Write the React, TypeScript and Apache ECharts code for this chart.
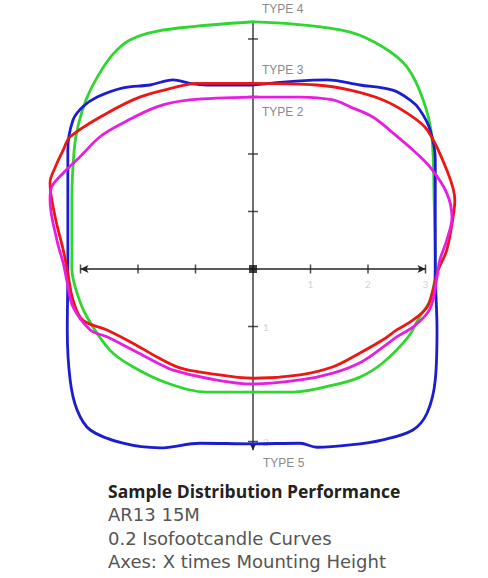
import React, { useEffect, useRef } from "react";
import * as echarts from "echarts";

// Isofootcandle curves (x, y in multiples of mounting height)
const type4Green: [number, number][] = [
  [0, 4.3], [0.7, 4.26], [1.69, 4.12], [2.26, 3.86], [2.68, 3.51], [2.96, 2.94], [3.11, 2.3],
  [3.15, 1.2], [3.17, 0], [3.08, -0.54], [2.9, -0.83], [2.7, -1.18], [2.26, -1.63], [1.86, -1.88],
  [1.39, -2.02], [0.7, -2.14], [0, -2.14], [-0.8, -2.14], [-1.5, -1.98], [-2.09, -1.7], [-2.49, -1.41],
  [-2.89, -0.83], [-3.06, -0.42], [-3.15, 0], [-3.15, 1.2], [-3.11, 2.07], [-3.04, 2.5], [-2.9, 2.95],
  [-2.7, 3.35], [-2.45, 3.72], [-2.15, 3.98], [-1.7, 4.13], [-1.0, 4.22], [0, 4.3],
];
const type5Blue: [number, number][] = [
  [0, 3.2], [1.29, 3.29], [1.86, 3.2], [2.43, 3.11], [2.73, 2.94], [2.9, 2.77], [3.08, 2.42],
  [3.17, 1.9], [3.17, 0], [3.2, -1.06], [3.17, -1.93], [3.03, -2.5], [2.78, -2.8], [2.26, -2.97],
  [1.69, -3.06], [1.11, -3.1], [0.82, -3.03], [0, -3.04], [-0.92, -3.03], [-1.62, -3.11], [-2.26, -3.03],
  [-2.83, -2.8], [-3.06, -2.45], [-3.18, -1.93], [-3.23, -1.06], [-3.22, 0], [-3.22, 2.07], [-3.13, 2.59],
  [-2.96, 2.82], [-2.71, 2.99], [-2.26, 3.15], [-1.79, 3.2], [-1.39, 3.29], [-1.1, 3.23], [-0.8, 3.2], [0, 3.2],
];
const type3Red: [number, number][] = [
  [0, 3.23], [1.11, 3.2], [1.69, 3.11], [2.26, 2.94], [2.68, 2.71], [3.03, 2.42], [3.37, 1.72],
  [3.51, 1.2], [3.48, 0.9], [3.37, 0.33], [3.22, -0.02], [3.13, -0.37], [3.03, -0.66], [2.78, -0.89],
  [2.5, -1.06], [2.26, -1.23], [1.86, -1.46], [1.39, -1.7], [0.82, -1.84], [0, -1.9], [-0.8, -1.81],
  [-1.27, -1.72], [-1.67, -1.53], [-2.09, -1.29], [-2.54, -1.06], [-2.96, -0.89], [-3.13, -0.54],
  [-3.23, -0.02], [-3.3, 0.33], [-3.44, 0.9], [-3.53, 1.5], [-3.44, 1.77], [-3.3, 2.07], [-3.18, 2.3],
  [-2.54, 2.71], [-1.97, 2.99], [-1.39, 3.15], [-0.97, 3.23], [0, 3.23],
];
const type2Magenta: [number, number][] = [
  [0, 2.99], [0.82, 2.99], [1.39, 2.94], [1.69, 2.82], [2.09, 2.64], [2.43, 2.37], [2.78, 2.07],
  [3.08, 1.77], [3.37, 1.32], [3.46, 0.9], [3.37, 0.5], [3.25, 0.16], [3.2, -0.14], [3.13, -0.54],
  [3.03, -0.77], [2.78, -1.01], [2.5, -1.18], [2.26, -1.36], [1.86, -1.63], [1.39, -1.81], [0.82, -1.93],
  [0, -2.0], [-0.8, -1.9], [-1.39, -1.76], [-1.67, -1.63], [-2.09, -1.41], [-2.54, -1.18], [-2.83, -1.06],
  [-3.13, -0.66], [-3.23, -0.24], [-3.3, 0.1], [-3.41, 0.5], [-3.53, 1.2], [-3.5, 1.43], [-3.3, 1.67],
  [-3.01, 1.95], [-2.66, 2.3], [-2.26, 2.54], [-1.67, 2.82], [-1.1, 2.94], [0, 2.99],
];

const xTicks = [-3, -2, -1, 1, 2, 3];
const yTicks = [-3, -2, -1, 1, 2, 3, 4];
const xAxisExtent = [-3, 3];
const yAxisExtent = [-3.15, 4.3];
const xTickLabels = ["1", "2", "3"];
const xTickLabelValues = [1, 2, 3];
const yTickLabels = ["1", "2"];
const yTickLabelValues = [-1, -3];

const typeLabels = ["TYPE 4", "TYPE 3", "TYPE 2", "TYPE 5"];
const captionLines = [
  "Sample Distribution Performance",
  "AR13 15M",
  "0.2 Isofootcandle Curves",
  "Axes: X times Mounting Height",
];

export default function App() {
  const ref = useRef<HTMLDivElement>(null);
  useEffect(() => {
    if (!ref.current) return;
    const chart = echarts.init(ref.current, null, { renderer: "svg" });
    const curve = (name: string, data: [number, number][], color: string) => ({
      type: "line",
      name,
      data,
      smooth: 0.35,
      showSymbol: false,
      symbol: "none",
      lineStyle: { color, width: 2.8 },
      z: 3,
    });
    const typeLabelPos = [
      [262, 9],
      [262, 70],
      [262, 112],
      [263, 463],
    ];
    chart.setOption({
      animation: false,
      backgroundColor: "#ffffff",
      grid: { left: 46, right: 28, top: 16, bottom: 125 },
      xAxis: { type: "value", min: -3.6, max: 3.6, show: false },
      yAxis: { type: "value", min: -3.2, max: 4.4, show: false },
      series: [
        {
          type: "line",
          data: [
            { value: [xAxisExtent[0], 0], symbol: "arrow", symbolSize: [6, 8], symbolRotate: 90 },
            { value: [xAxisExtent[1], 0], symbol: "arrow", symbolSize: [6, 8], symbolRotate: -90 },
          ],
          lineStyle: { color: "#222", width: 1.3 },
          itemStyle: { color: "#222" },
          z: 2,
        },
        {
          type: "line",
          data: [
            { value: [0, yAxisExtent[0]], symbol: "arrow", symbolSize: [6, 8], symbolRotate: 180 },
            { value: [0, yAxisExtent[1]], symbol: "none" },
          ],
          lineStyle: { color: "#222", width: 1.3 },
          itemStyle: { color: "#222" },
          z: 2,
        },
        {
          type: "scatter",
          data: xTicks.map((v) => [v, 0]),
          symbol: "rect",
          symbolSize: [1.5, 9],
          itemStyle: { color: "#222" },
          z: 2,
        },
        {
          type: "scatter",
          data: yTicks.map((v) => [0, v]),
          symbol: "rect",
          symbolSize: [10, 1.5],
          itemStyle: { color: "#222" },
          z: 2,
        },
        {
          type: "scatter",
          data: [[0, 0]],
          symbol: "rect",
          symbolSize: 8,
          itemStyle: { color: "#111" },
          z: 5,
        },
        {
          type: "scatter",
          data: xTickLabelValues.map((v, i) => ({ value: [v, 0], name: xTickLabels[i] })),
          symbolSize: 0,
          label: {
            show: true,
            formatter: "{b}",
            position: "bottom",
            distance: 10,
            color: "#c8c8c8",
            fontSize: 10,
            fontFamily: "Lato",
          },
          z: 1,
        },
        {
          type: "scatter",
          data: yTickLabelValues.map((v, i) => ({ value: [0, v], name: yTickLabels[i] })),
          symbolSize: 0,
          label: {
            show: true,
            formatter: "{b}",
            position: "right",
            distance: 10,
            color: "#c8c8c8",
            fontSize: 10,
            fontFamily: "Lato",
          },
          z: 1,
        },
        curve("TYPE 4", type4Green, "#2ed62e"),
        curve("TYPE 5", type5Blue, "#1c1cd0"),
        curve("TYPE 3", type3Red, "#ee1515"),
        curve("TYPE 2", type2Magenta, "#e61ee0"),
      ],
      graphic: [
        ...typeLabels.map((t, i) => ({
          type: "text",
          x: typeLabelPos[i][0],
          y: typeLabelPos[i][1],
          style: {
            text: t,
            fill: "#8a8a8a",
            font: "12px 'Liberation Sans Narrow', 'Liberation Sans', sans-serif",
            textVerticalAlign: "middle",
          },
          z: 10,
        })),
        ...captionLines.map((t, i) => ({
          type: "text",
          x: 108,
          y: 491 + i * 23.5,
          style: {
            text: t,
            fill: i === 0 ? "#222" : "#555",
            font:
              i === 0
                ? "bold 17.5px 'Open Sans', sans-serif"
                : "18px 'DejaVu Sans', sans-serif",
            textVerticalAlign: "middle",
          },
          z: 10,
        })),
      ],
    });
    return () => chart.dispose();
  }, []);
  return (
    <div
      ref={ref}
      style={{ position: "fixed", left: 0, top: 0, width: 488, height: 578 }}
    />
  );
}
